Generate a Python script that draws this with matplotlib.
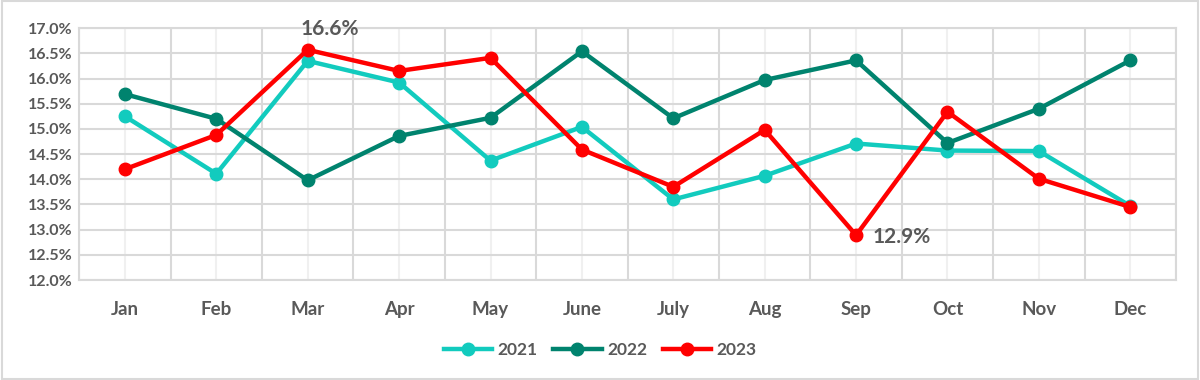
import matplotlib.pyplot as plt
import numpy as np
from matplotlib.patches import Rectangle
from matplotlib.ticker import FuncFormatter, MultipleLocator

months = ["Jan", "Feb", "Mar", "Apr", "May", "June", "July", "Aug", "Sep", "Oct", "Nov", "Dec"]
rate_2021 = [15.25, 14.11, 16.35, 15.92, 14.37, 15.04, 13.60, 14.07, 14.71, 14.57, 14.56, 13.47]
rate_2022 = [15.69, 15.20, 13.98, 14.86, 15.22, 16.54, 15.21, 15.97, 16.36, 14.72, 15.40, 16.36]
rate_2023 = [14.20, 14.88, 16.57, 16.15, 16.41, 14.59, 13.85, 14.98, 12.89, 15.34, 14.01, 13.45]

grey = "#595959"
plt.rcParams["font.family"] = ["Lato", "DejaVu Sans"]

fig = plt.figure(figsize=(12, 3.8), dpi=100)
ax = fig.add_axes([0.066, 0.263, 0.914, 0.663])
fig.patches.append(Rectangle((0.002, 0.003), 0.996, 0.994, transform=fig.transFigure,
                             fill=False, edgecolor="#D9D9D9", linewidth=1.5))

x = np.arange(len(months))
series = [("2021", rate_2021, "#12CBBE"), ("2022", rate_2022, "#00836E"), ("2023", rate_2023, "#FF0000")]
for name, vals, color in series:
    ax.plot(x, vals, color=color, linewidth=3.2, marker="o", markersize=9, label=name, zorder=3)

ax.set_xlim(-0.5, 11.5)
ax.set_ylim(12.0, 17.0)
ax.yaxis.set_major_locator(MultipleLocator(0.5))
ax.yaxis.set_major_formatter(FuncFormatter(lambda v, p: f"{v:.1f}%"))
ax.set_xticks(x)
ax.set_xticklabels(months)
ax.set_xticks(np.arange(-0.5, 12, 1), minor=True)

ax.grid(axis="y", which="major", color="#D9D9D9", linewidth=1.5)
ax.grid(axis="x", which="minor", color="#D9D9D9", linewidth=1.5)
ax.grid(axis="x", which="major", color="#F0F0F0", linewidth=1.5)
ax.set_axisbelow(True)
for s in ax.spines.values():
    s.set_color("#D9D9D9")
    s.set_linewidth(1.5)

ax.tick_params(axis="both", which="both", length=0)
ax.tick_params(axis="y", labelsize=11.5, labelcolor=grey, pad=5)
ax.tick_params(axis="x", labelsize=13.5, labelcolor=grey, pad=15)
for lbl in ax.get_xticklabels() + ax.get_yticklabels():
    lbl.set_fontweight("bold")

# data labels for the 2023 high and low
ax.annotate(f"{rate_2023[2]:.1f}%", (2, rate_2023[2]), xytext=(16, 8), textcoords="offset points",
            ha="center", va="bottom", fontsize=15, fontweight="bold", color=grey)
ax.annotate(f"{rate_2023[8]:.1f}%", (8, rate_2023[8]), xytext=(12, -1), textcoords="offset points",
            ha="left", va="center", fontsize=15, fontweight="bold", color=grey)

leg = fig.legend(loc="center", bbox_to_anchor=(0.5, 0.079), ncol=3, frameon=False,
                 fontsize=12.5, handlelength=2.8, columnspacing=0.9, handletextpad=0.3)
for t in leg.get_texts():
    t.set_color(grey)
    t.set_fontweight("bold")

fig.savefig("out.png", dpi=100)
